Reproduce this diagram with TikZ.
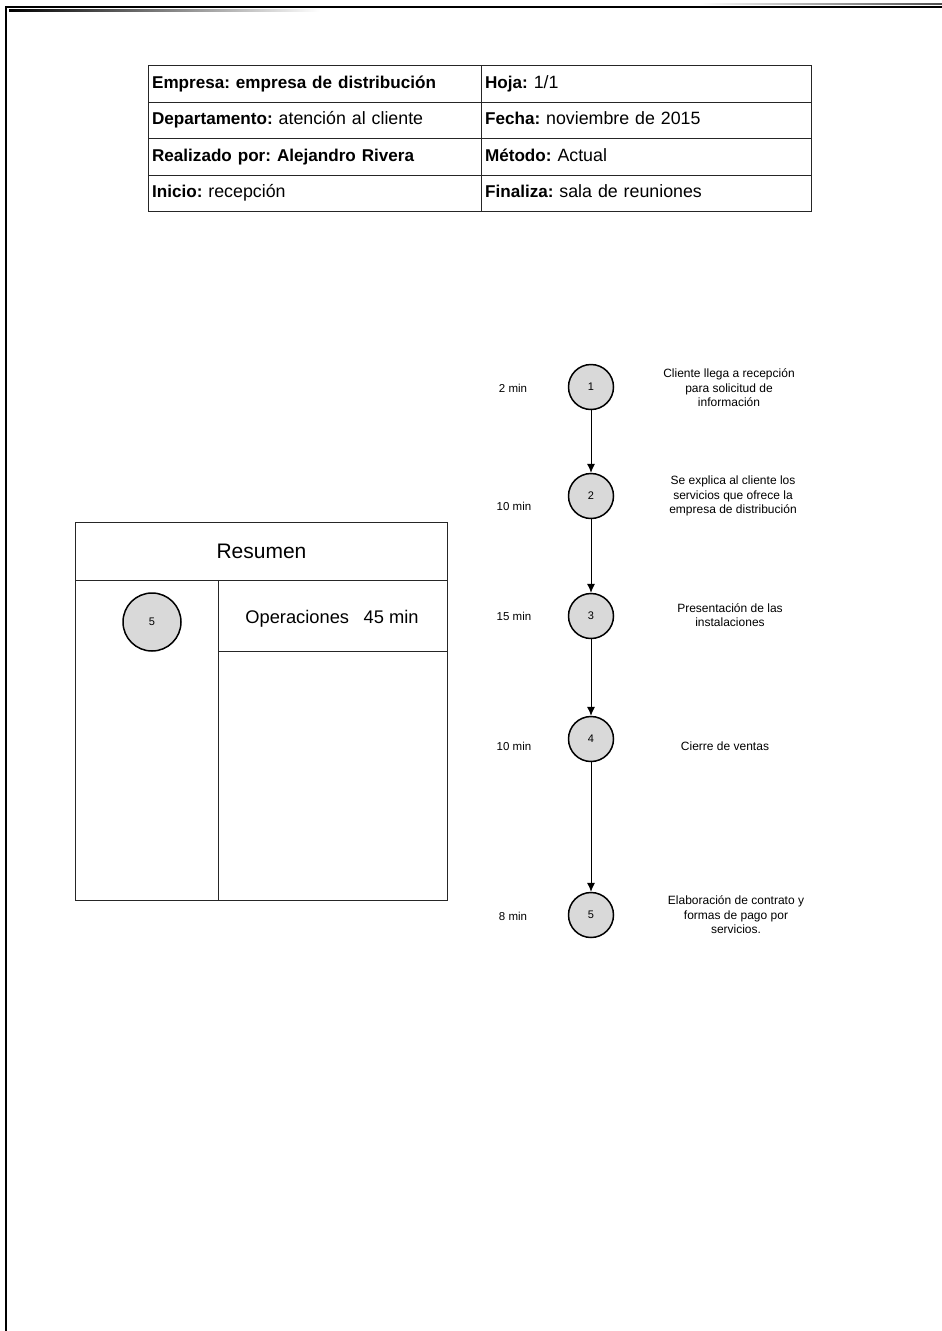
\documentclass[tikz,border=0pt]{standalone}
\usepackage{fontspec}
\setmainfont{Liberation Sans}
\usetikzlibrary{arrows.meta}
\newcommand\lblbf[1]{{\fontsize{17.1}{20}\selectfont\bfseries #1}}
\begin{document}
\frenchspacing
\begin{tikzpicture}[x=1pt,y=-1pt,
  cell/.style={draw=black!85, line width=1.2pt, anchor=north west, minimum height=36.5pt,
    text width=#1, align=left, inner xsep=3.5pt, inner ysep=0pt, text height=13pt, text depth=4pt,
    font=\fontsize{17.8}{20}\selectfont},
  op/.style={circle, draw=black, line width=1.5pt, fill=black!15, minimum size=45pt, inner sep=0pt,
    font=\fontsize{11}{13}\selectfont},
  tlabel/.style={font=\fontsize{11.5}{13}\selectfont},
  desc/.style={align=center, font=\fontsize{12}{14.5}\selectfont},
  flow/.style={line width=0.8pt, -{Latex[length=9pt,width=8pt]}},
  box/.style={draw=black!85, line width=1pt, anchor=north west, inner sep=0pt}
]
\useasboundingbox (0,0) rectangle (942,1331);
\fill[white] (0,0) rectangle (942,1331);

% page border
\draw[line width=2.6pt] (6,1331) -- (6,7) -- (942,7);
\shade[left color=black, right color=white] (9,9.3) rectangle (320,11);
\shade[left color=white, right color=black!70] (700,3) rectangle (942,4.5);

% header table
\node[cell=326pt] (c11) at (148,65) {\lblbf{Empresa: empresa de distribución}};
\node[cell=323pt] (c12) at (481,65) {\lblbf{Hoja:} 1/1};
\node[cell=326pt] (c21) at (148,101.5) {\lblbf{Departamento:} atención al cliente};
\node[cell=323pt] (c22) at (481,101.5) {\lblbf{Fecha:} noviembre de 2015};
\node[cell=326pt] (c31) at (148,138) {\lblbf{Realizado por: Alejandro Rivera}};
\node[cell=323pt] (c32) at (481,138) {\lblbf{Método:} Actual};
\node[cell=326pt] (c41) at (148,174.5) {\lblbf{Inicio:} recepción};
\node[cell=323pt] (c42) at (481,174.5) {\lblbf{Finaliza:} sala de reuniones};

% summary box
\node[box, minimum width=372pt, minimum height=58pt, font=\fontsize{21}{24}\selectfont] (rhead) at (75,522) {Resumen};
\node[box, minimum width=143pt, minimum height=320pt] (rleft) at (75,580) {};
\node[box, minimum width=229pt, minimum height=71pt] (rop) at (218,580) {};
\node[font=\fontsize{18.3}{21}\selectfont] (roptext) at (332,619) {Operaciones\hspace{0.8em}45 min};
\node[box, minimum width=229pt, minimum height=249pt] (rrest) at (218,651) {};
\node[op, minimum size=58pt] (s5) at (152,622) {5};

% flow
\node[op] (n1) at (591,387) {1};
\node[op] (n2) at (591,496) {2};
\node[op] (n3) at (591,616) {3};
\node[op] (n4) at (591,739) {4};
\node[op] (n5) at (591,915) {5};

\draw[flow] (n1) -- (n2);
\draw[flow] (n2) -- (n3);
\draw[flow] (n3) -- (n4);
\draw[flow] (n4) -- (n5);

\node[tlabel] (t1) at (513,388) {2 min};
\node[tlabel] (t2) at (514,506) {10 min};
\node[tlabel] (t3) at (514,616) {15 min};
\node[tlabel] (t4) at (514,746) {10 min};
\node[tlabel] (t5) at (513,916) {8 min};

\node[desc] (d1) at (729,388) {Cliente llega a recepción\\para solicitud de\\información};
\node[desc] (d2) at (733,496) {Se explica al cliente los\\servicios que ofrece la\\empresa de distribución};
\node[desc] (d3) at (730,615) {Presentación de las\\instalaciones};
\node[desc] (d4) at (725,746) {Cierre de ventas};
\node[desc] (d5) at (736,915) {Elaboración de contrato y\\formas de pago por\\servicios.};
\end{tikzpicture}
\end{document}
